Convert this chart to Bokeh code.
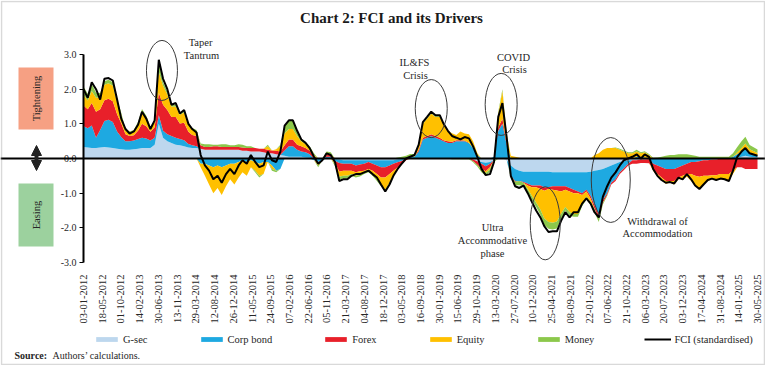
import numpy as np
import pandas as pd
from datetime import datetime
from bokeh.plotting import figure
from bokeh.models import (Range1d, FixedTicker, DatetimeTickFormatter, NumeralTickFormatter,
                          Span, Label, BoxAnnotation, Arrow, NormalHead, Legend, LegendItem)
from bokeh.embed import file_html
from bokeh.resources import INLINE

# ---------------- data (monthly readings, Jan 2012 .. May 2025) ----------------
gsec = [
    0.33, 0.32, 0.30, 0.30, 0.32, 0.33, 0.32, 0.30, 0.28, 0.27, 0.25, 0.25,
    0.27, 0.28, 0.30, 0.30, 0.30, 0.40, 1.00, 0.60, 0.50, 0.45, 0.40, 0.38,
    0.35, 0.32, 0.30, 0.30, 0.28, 0.25, 0.25, 0.25, 0.25, 0.25, 0.25, 0.25,
    0.25, 0.25, 0.22, 0.22, 0.20, 0.20, 0.20, 0.18, 0.15, 0.15, 0.12, 0.10,
    0.08, 0.05, 0.05, 0.05, 0.05, 0.03, 0.02, 0.00, 0.00, 0.00, 0.00, 0.00,
    -0.02, -0.03, -0.05, -0.05, -0.05, -0.05, -0.05, -0.05, -0.05, -0.05, -0.05, -0.05,
    -0.05, -0.05, -0.05, -0.03, -0.02, 0.00, 0.00, 0.00, 0.00, 0.00, 0.00, 0.00,
    0.00, 0.00, 0.00, 0.00, 0.00, 0.00, 0.00, 0.00, 0.00, -0.03, -0.08, -0.10,
    -0.12, -0.10, -0.05, 0.00, 0.00, -0.05, -0.20, -0.30, -0.35, -0.38, -0.38, -0.38,
    -0.38, -0.38, -0.38, -0.38, -0.40, -0.40, -0.40, -0.40, -0.40, -0.40, -0.40, -0.40,
    -0.40, -0.38, -0.35, -0.33, -0.30, -0.25, -0.20, -0.15, -0.10, -0.08, -0.05, -0.05,
    -0.05, -0.03, -0.03, -0.02, 0.00, 0.00, 0.00, 0.00, 0.00, 0.00, 0.00, 0.00,
    0.00, 0.00, 0.00, 0.00, 0.00, 0.00, 0.00, 0.00, 0.00, 0.00, 0.00, 0.00,
    0.03, 0.05, 0.08, 0.05, 0.03,
]
corp = [
    0.60, 0.55, 0.65, 0.30, 0.50, 0.75, 0.80, 0.75, 0.50, 0.35, 0.25, 0.25,
    0.25, 0.28, 0.30, 0.28, 0.22, 0.20, 0.25, 0.20, 0.20, 0.20, 0.20, 0.18,
    0.18, 0.10, 0.08, 0.05, -0.15, -0.15, -0.20, -0.25, -0.20, -0.25, -0.20, -0.15,
    -0.15, -0.10, -0.05, -0.10, -0.05, -0.10, -0.15, -0.10, -0.10, -0.20, -0.35, -0.30,
    0.15, 0.30, 0.30, 0.20, 0.15, 0.15, 0.10, -0.05, -0.10, -0.05, 0.05, 0.05,
    -0.05, -0.10, -0.10, -0.10, -0.10, -0.15, -0.12, -0.10, -0.05, -0.10, -0.15, -0.20,
    -0.20, -0.15, -0.10, -0.08, -0.05, 0.00, 0.05, 0.05, 0.20, 0.55, 0.60, 0.65,
    0.60, 0.55, 0.50, 0.45, 0.45, 0.50, 0.50, 0.50, 0.45, 0.30, 0.10, -0.05,
    -0.10, -0.05, 0.05, 0.80, 1.00, 0.40, -0.30, -0.35, -0.30, -0.30, -0.35, -0.40,
    -0.40, -0.40, -0.45, -0.45, -0.40, -0.40, -0.40, -0.40, -0.45, -0.50, -0.55, -0.60,
    -0.50, -0.70, -1.00, -1.30, -0.90, -0.75, -0.50, -0.45, -0.30, -0.20, -0.10, 0.00,
    0.05, 0.05, 0.03, 0.00, -0.15, -0.20, -0.25, -0.30, -0.30, -0.30, -0.25, -0.20,
    -0.15, -0.10, -0.10, -0.08, -0.05, -0.05, -0.03, -0.03, 0.00, 0.00, 0.00, 0.05,
    0.10, 0.15, 0.20, 0.10, 0.05,
]
forex = [
    0.60, 0.55, 0.65, 0.75, 0.60, 0.60, 0.60, 0.60, 0.50, 0.40, 0.20, 0.15,
    0.15, 0.25, 0.40, 0.35, 0.25, 0.30, 0.65, 0.75, 0.70, 0.55, 0.60, 0.45,
    0.50, 0.35, 0.30, 0.30, 0.10, 0.08, 0.08, 0.10, 0.10, 0.08, 0.08, 0.08,
    0.08, 0.08, 0.10, 0.08, 0.10, 0.10, 0.08, 0.10, 0.10, 0.08, 0.10, 0.10,
    0.15, 0.20, 0.20, 0.15, 0.15, 0.12, 0.10, 0.05, -0.05, 0.00, 0.05, 0.05,
    -0.05, -0.25, -0.20, -0.20, -0.20, -0.20, -0.20, -0.20, -0.20, -0.20, -0.25, -0.30,
    -0.30, -0.25, -0.20, -0.15, -0.10, -0.05, 0.00, 0.00, 0.05, 0.05, 0.05, 0.05,
    0.05, 0.05, 0.03, 0.05, 0.03, 0.03, 0.03, 0.02, 0.00, -0.05, -0.10, -0.15,
    -0.15, -0.10, 0.00, 0.10, 0.15, 0.05, -0.02, -0.02, 0.00, -0.02, -0.05, -0.05,
    -0.05, -0.10, -0.10, -0.05, -0.10, -0.12, -0.15, -0.10, -0.10, -0.10, -0.05, -0.05,
    -0.05, -0.08, -0.10, -0.10, -0.08, -0.05, -0.05, -0.05, -0.05, -0.05, -0.05, -0.10,
    -0.10, -0.10, -0.10, -0.12, -0.15, -0.25, -0.30, -0.35, -0.35, -0.35, -0.30, -0.30,
    -0.30, -0.35, -0.40, -0.45, -0.45, -0.45, -0.45, -0.45, -0.45, -0.45, -0.45, -0.35,
    -0.25, -0.25, -0.30, -0.30, -0.30,
]
equity = [
    0.30, 0.25, 0.35, 0.40, 0.35, 0.45, 0.45, 0.45, 0.35, 0.25, 0.10, 0.08,
    0.10, 0.20, 0.35, 0.25, 0.10, 0.15, 0.60, 0.55, 0.45, 0.30, 0.30, 0.25,
    0.30, 0.20, 0.15, 0.12, -0.10, -0.35, -0.55, -0.75, -0.65, -0.80, -0.60, -0.45,
    -0.60, -0.45, -0.35, -0.40, -0.20, -0.25, -0.35, -0.35, 0.10, -0.10, 0.05, 0.15,
    0.35, 0.30, 0.30, 0.25, 0.15, 0.12, 0.08, 0.05, -0.05, 0.00, 0.05, 0.03,
    -0.05, -0.15, -0.15, -0.15, -0.10, -0.10, -0.10, -0.05, -0.05, -0.10, -0.15, -0.20,
    -0.35, -0.25, -0.15, -0.05, 0.00, 0.00, 0.00, 0.00, 0.10, 0.40, 0.50, 0.60,
    0.55, 0.60, 0.45, 0.30, 0.25, 0.15, 0.25, 0.20, 0.25, 0.20, 0.05, -0.02,
    -0.05, -0.05, 0.00, 0.40, 0.80, 0.25, 0.08, 0.05, 0.02, 0.00, -0.10, -0.25,
    -0.45, -0.60, -0.80, -0.95, -0.95, -0.90, -0.65, -0.50, -0.60, -0.60, -0.60, -0.25,
    -0.15, -0.10, 0.10, 0.15, 0.25, 0.30, 0.30, 0.30, 0.25, 0.20, 0.15, 0.15,
    0.15, 0.10, 0.15, 0.10, -0.05, -0.08, -0.08, -0.08, -0.05, -0.10, -0.05, -0.10,
    -0.08, -0.20, -0.30, -0.35, -0.25, -0.15, -0.12, -0.15, -0.15, -0.15, -0.20, -0.10,
    0.05, 0.10, 0.15, 0.12, 0.08,
]
money = [
    0.25, 0.20, 0.20, 0.15, 0.12, 0.10, 0.10, 0.10, 0.08, 0.05, 0.05, 0.05,
    0.05, 0.05, 0.08, 0.05, 0.05, 0.05, 0.30, 0.10, 0.08, 0.05, 0.05, 0.05,
    0.05, 0.05, 0.05, 0.05, 0.05, 0.08, 0.08, 0.05, 0.05, 0.08, 0.08, 0.05,
    0.05, 0.08, 0.08, 0.05, 0.05, -0.05, -0.05, 0.00, 0.05, -0.05, -0.05, 0.05,
    0.20, 0.25, 0.25, 0.15, 0.05, 0.05, 0.05, 0.05, -0.05, 0.00, 0.05, 0.05,
    -0.05, -0.08, -0.08, -0.08, -0.05, -0.05, -0.05, -0.05, -0.05, -0.05, -0.05, -0.05,
    -0.05, -0.05, 0.00, 0.03, 0.05, 0.08, 0.08, 0.08, 0.05, 0.02, 0.02, 0.02,
    0.02, 0.02, 0.02, 0.00, -0.02, -0.02, -0.02, -0.02, -0.02, -0.03, -0.05, -0.08,
    -0.08, -0.08, -0.05, 0.05, 0.05, 0.02, -0.05, -0.10, -0.12, -0.10, -0.12, -0.12,
    -0.12, -0.15, -0.18, -0.20, -0.20, -0.20, -0.15, -0.10, -0.10, -0.08, -0.08, -0.08,
    -0.08, -0.08, -0.10, -0.10, -0.05, -0.03, 0.00, 0.02, 0.03, 0.03, 0.03, 0.03,
    0.05, 0.03, 0.03, 0.03, 0.02, 0.03, 0.05, 0.08, 0.10, 0.10, 0.12, 0.12,
    0.12, 0.10, 0.08, 0.05, 0.05, 0.05, 0.05, 0.05, 0.05, 0.05, 0.05, 0.10,
    0.15, 0.20, 0.20, 0.12, 0.10,
]
fci = [
    2.00, 1.75, 2.20, 2.00, 1.70, 2.30, 2.32, 2.25, 1.70, 1.15, 0.85, 0.72,
    0.78, 0.98, 1.35, 1.15, 0.85, 1.10, 2.85, 2.30, 2.00, 1.55, 1.60, 1.30,
    1.40, 1.00, 0.85, 0.75, 0.10, -0.20, -0.35, -0.60, -0.50, -0.70, -0.45, -0.30,
    -0.45, -0.20, -0.05, -0.15, 0.10, -0.10, -0.25, -0.20, 0.20, -0.05, -0.10, 0.20,
    0.95, 1.10, 1.10, 0.80, 0.55, 0.45, 0.30, 0.05, -0.15, -0.05, 0.15, 0.10,
    -0.10, -0.65, -0.60, -0.60, -0.50, -0.45, -0.45, -0.40, -0.35, -0.45, -0.55, -0.75,
    -0.95, -0.75, -0.50, -0.30, -0.15, 0.00, 0.05, 0.10, 0.40, 1.05, 1.20, 1.35,
    1.25, 1.25, 1.00, 0.80, 0.65, 0.60, 0.55, 0.62, 0.58, 0.35, 0.05, -0.30,
    -0.48, -0.45, -0.10, 1.20, 1.60, 0.60, -0.50, -0.80, -0.85, -0.78, -1.00, -1.25,
    -1.50, -1.70, -1.95, -2.12, -2.10, -2.10, -1.80, -1.55, -1.70, -1.55, -1.55, -1.30,
    -1.15, -1.30, -1.55, -1.70, -1.10, -0.80, -0.55, -0.40, -0.20, -0.05, 0.00, 0.05,
    0.12, 0.00, 0.12, 0.05, -0.30, -0.50, -0.62, -0.70, -0.68, -0.72, -0.55, -0.60,
    -0.45, -0.60, -0.78, -0.88, -0.75, -0.62, -0.58, -0.62, -0.58, -0.60, -0.65, -0.35,
    0.05, 0.20, 0.30, 0.15, 0.08,
]
series_names = ["G-sec", "Corp bond", "Forex", "Equity", "Money"]
series_colors = ["#BDD7EE", "#1EA9E1", "#E8202A", "#FFC000", "#8CC84B"]

tick_labels = [
    "03-01-2012", "18-05-2012", "01-10-2012", "14-02-2013", "30-06-2013", "13-11-2013",
    "29-03-2014", "12-08-2014", "26-12-2014", "11-05-2015", "24-09-2015", "07-02-2016",
    "22-06-2016", "05-11-2016", "21-03-2017", "04-08-2017", "18-12-2017", "03-05-2018",
    "16-09-2018", "30-01-2019", "15-06-2019", "29-10-2019", "13-03-2020", "27-07-2020",
    "10-12-2020", "25-04-2021", "08-09-2021", "22-01-2022", "07-06-2022", "21-10-2022",
    "06-03-2023", "20-07-2023", "03-12-2023", "17-04-2024", "31-08-2024", "14-01-2025",
    "30-05-2025",
]
y_ticks = [-3, -2, -1, 0, 1, 2, 3]

# annotation ellipses: (date, y-centre, width px, height px)
ell_dates = ["2013-07-26", "2018-12-03", "2020-04-24", "2021-03-10", "2022-06-29"]
ell_y = [2.54, 1.44, 1.56, -1.87, -0.62]
ell_w = [31, 32, 32, 30, 39]
ell_h = [60, 58, 62, 73, 85]

# ---------------- layout geometry ----------------
W, H = 765, 365
AX_X = 83            # pixel column of the value axis (first date)
ZERO_Y = 158         # pixel row of value 0
PX_PER_UNIT = 208 / 6.0
t0 = pd.Timestamp(datetime.strptime(tick_labels[0], "%d-%m-%Y"))
t1 = pd.Timestamp(datetime.strptime(tick_labels[-1], "%d-%m-%Y"))
PX_PER_DAY = 674.0 / (t1 - t0).days
x_start = t0 - pd.Timedelta(days=AX_X / PX_PER_DAY)
x_end = t0 + pd.Timedelta(days=(W - AX_X) / PX_PER_DAY)
y_start = (ZERO_Y - H) / PX_PER_UNIT
y_end = ZERO_Y / PX_PER_UNIT

dates = pd.date_range("2012-01-01", periods=len(fci), freq="MS") + pd.Timedelta(days=2)
dates = dates[:-1].append(pd.DatetimeIndex([t1]))
x = dates.values

SERIF = "Liberation Serif"
TXT = "#262626"

p = figure(width=W, height=H, x_axis_type="datetime",
           x_range=Range1d(x_start.to_pydatetime(), x_end.to_pydatetime()),
           y_range=Range1d(y_start, y_end),
           min_border=0, min_border_left=0, min_border_right=0,
           min_border_top=0, min_border_bottom=0,
           output_backend="svg", toolbar_location=None)
p.title.visible = False
p.outline_line_color = None
p.grid.visible = False
p.background_fill_color = "white"
p.border_fill_color = "white"

pos_base = np.zeros(len(fci))
neg_base = np.zeros(len(fci))
legend_renderers = []
for vals, color in zip([gsec, corp, forex, equity, money], series_colors):
    v = np.array(vals, dtype=float)
    pos = np.clip(v, 0, None)
    neg = np.clip(v, None, 0)
    r = p.varea(x=x, y1=pos_base.copy(), y2=(pos_base + pos), fill_color=color)
    p.varea(x=x, y1=neg_base.copy(), y2=(neg_base + neg), fill_color=color)
    pos_base = pos_base + pos
    neg_base = neg_base + neg
    legend_renderers.append(r)

p.add_layout(Span(location=0, dimension="width", line_color="black", line_width=2.2))
fci_r = p.line(x=x, y=fci, line_color="black", line_width=2)

p.ellipse(x=pd.to_datetime(ell_dates).values, y=ell_y, width=ell_w, height=ell_h,
          width_units="screen", height_units="screen",
          fill_color=None, line_color="#3a3a3a", line_width=1)

# axes (placed at fixed data locations so the plot frame can span the whole canvas)
yax = p.yaxis[0]
yax.fixed_location = t0.timestamp() * 1000
yax.ticker = FixedTicker(ticks=y_ticks)
yax.formatter = NumeralTickFormatter(format="0.0")
yax.bounds = (min(y_ticks), max(y_ticks))
yax.axis_line_width = 2
yax.axis_line_color = "black"
yax.major_tick_out = 4
yax.major_tick_in = 0
yax.minor_tick_line_color = None
yax.major_label_text_font = SERIF
yax.major_label_text_font_size = "10px"
yax.major_label_text_color = TXT
yax.major_label_standoff = 3

tick_ms = [pd.Timestamp(datetime.strptime(t, "%d-%m-%Y")).timestamp() * 1000 for t in tick_labels]
xax = p.xaxis[0]
xax.fixed_location = min(y_ticks)
xax.ticker = FixedTicker(ticks=tick_ms)
fmt = "%d-%m-%Y"
xax.formatter = DatetimeTickFormatter(microseconds=fmt, milliseconds=fmt, seconds=fmt, minsec=fmt,
                                      minutes=fmt, hourmin=fmt, hours=fmt, days=fmt,
                                      months=fmt, years=fmt, strip_leading_zeros=False)
xax.major_label_orientation = np.pi / 2
xax.axis_line_color = None
xax.major_tick_line_color = None
xax.minor_tick_line_color = None
xax.major_label_standoff = 6
xax.major_label_text_font = SERIF
xax.major_label_text_font_size = "10.5px"
xax.major_label_text_color = TXT


# helpers: image pixel -> screen units (frame spans the whole canvas)
def sx(px):
    return px


def sy(py):
    return H - py


def lab(text, px, py, size="10.5px", align="center", bold=False, angle=0, color=TXT):
    p.add_layout(Label(x=sx(px), y=sy(py), x_units="screen", y_units="screen", text=text,
                       text_font=SERIF, text_font_size=size, text_align=align,
                       text_baseline="middle", text_color=color,
                       text_font_style="bold" if bold else "normal",
                       angle=angle, angle_units="deg"))


# title
lab("Chart 2: FCI and its Drivers", 391, 17, size="15px", bold=True, color="#1a1a1a")

# event annotations
lab("Taper", 200, 42)
lab("Tantrum", 201, 55)
lab("IL&FS", 414, 62)
lab("Crisis", 415, 75)
lab("COVID", 513, 57)
lab("Crisis", 514, 69)
lab("Ultra", 492, 227)
lab("Accommodative", 492, 240)
lab("phase", 492, 253)
lab("Withdrawal of", 657, 221)
lab("Accommodation", 657, 233)

# tightening / easing boxes
for top, bottom, color in [(67, 129, "#F6A083"), (183, 246, "#9CD19E")]:
    p.add_layout(BoxAnnotation(left=sx(18), right=sx(53), top=sy(top), bottom=sy(bottom),
                               left_units="screen", right_units="screen",
                               top_units="screen", bottom_units="screen",
                               fill_color=color, fill_alpha=1, line_color=None))
lab("Tightening", 35.5, 98, angle=90)
lab("Easing", 35.5, 214.5, angle=90)
p.add_layout(Arrow(x_start=sx(36), y_start=sy(170), x_end=sx(36), y_end=sy(145),
                   start_units="screen", end_units="screen",
                   start=NormalHead(size=10, fill_color="#222", line_color="#222"),
                   end=NormalHead(size=10, fill_color="#222", line_color="#222"),
                   line_width=4, line_color="#222"))

# outer frame of the image
p.add_layout(BoxAnnotation(left=1, right=W - 1, top=H - 1, bottom=1,
                           left_units="screen", right_units="screen",
                           top_units="screen", bottom_units="screen",
                           fill_alpha=0, line_color="#808080", line_width=1.5))

# legend
items = [LegendItem(label=n, renderers=[r]) for n, r in zip(series_names, legend_renderers)]
items.append(LegendItem(label="FCI (standardised)", renderers=[fci_r]))
legend = Legend(items=items, orientation="horizontal", location=(sx(93), sy(346)),
                spacing=50, glyph_width=27, glyph_height=6, label_standoff=3,
                label_height=14, padding=0, margin=0, border_line_color=None,
                background_fill_alpha=0, label_text_font=SERIF,
                label_text_font_size="10.5px", label_text_color=TXT)
p.add_layout(legend, "center")

# source line
lab("Source:", 14, 355, size="10px", align="left", bold=True)
lab("Authors\u2019 calculations.", 52, 355, size="10px", align="left")

open("out.html", "w").write(file_html(p, INLINE))
